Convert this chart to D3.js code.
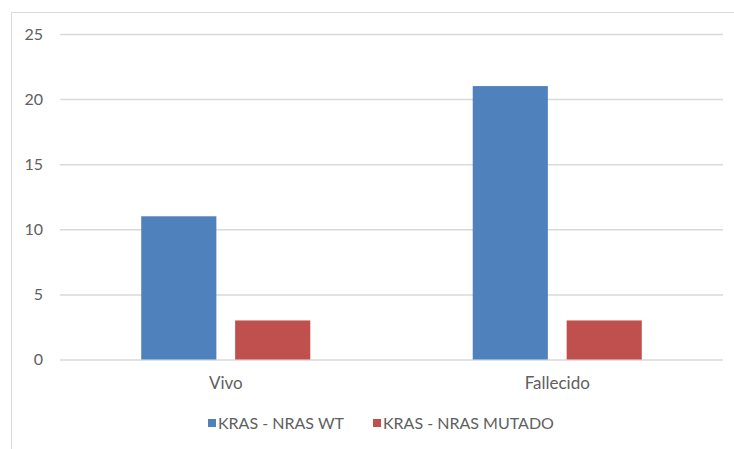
<!DOCTYPE html>
<html><head><meta charset="utf-8">
<script src="https://cdn.jsdelivr.net/npm/d3@7"></script>
<style>body{margin:0;background:#fff}svg{display:block}</style>
</head><body>
<script>
const categories = ["Vivo", "Fallecido"];
const seriesNames = ["KRAS - NRAS WT", "KRAS - NRAS MUTADO"];
const wtValues = [11, 21];
const mutValues = [3, 3];
const yTicks = [0, 5, 10, 15, 20, 25];
const colors = ["#4F81BD", "#C0504D"];

const W = 734, H = 449;
const svg = d3.select("body").append("svg").attr("width", W).attr("height", H);
const font = "Lato, 'Open Sans', sans-serif";
const textColor = "#606060";

// chart border (left + top visible)
svg.append("line").attr("x1", 11.5).attr("x2", 11.5).attr("y1", 12).attr("y2", H).attr("stroke", "#d9d9d9");
svg.append("line").attr("x1", 11).attr("x2", W).attr("y1", 12.5).attr("y2", 12.5).attr("stroke", "#d9d9d9");

const x0 = d3.scaleBand().domain(categories).range([60, 723]).paddingInner(0.49).paddingOuter(0.245);
const x1 = d3.scaleBand().domain(seriesNames).range([0, x0.bandwidth()]).paddingInner(0.2);
const y = d3.scaleLinear().domain([0, 25]).range([359.5, 34]);

const yAxis = d3.axisLeft(y).tickValues(yTicks).tickSize(-(723 - 60)).tickPadding(17);
const gy = svg.append("g").attr("transform", "translate(60,0)").call(yAxis);
gy.select(".domain").remove();
gy.selectAll(".tick line").attr("stroke", "#d9d9d9").attr("stroke-width", 1.5);
gy.selectAll(".tick text").attr("fill", textColor).style("font-family", font).style("font-size", "16px");

const data = categories.map((c, i) => ({cat: c, vals: [wtValues[i], mutValues[i]]}));
const groups = svg.append("g").selectAll("g").data(data).join("g")
  .attr("transform", d => `translate(${x0(d.cat)},0)`);
groups.selectAll("rect").data(d => d.vals.map((v, j) => ({name: seriesNames[j], v, j})))
  .join("rect")
  .attr("x", d => x1(d.name))
  .attr("width", x1.bandwidth())
  .attr("y", d => y(d.v))
  .attr("height", d => y(0) - y(d.v))
  .attr("fill", d => colors[d.j]);

const xAxis = d3.axisBottom(x0).tickSize(0).tickPadding(17);
const gx = svg.append("g").attr("transform", "translate(0,359.5)").call(xAxis);
gx.select(".domain").remove();
gx.selectAll(".tick text").attr("fill", textColor).style("font-family", font).style("font-size", "17px");

// legend
const legendX = [208, 373];
const lg = svg.append("g").selectAll("g").data(seriesNames).join("g")
  .attr("transform", (d, i) => `translate(${legendX[i]},423)`);
lg.append("rect").attr("x", 0).attr("y", -4).attr("width", 8).attr("height", 8).attr("fill", (d, i) => colors[i]);
lg.append("text").attr("x", 10).attr("y", 0).attr("dy", "0.35em").text(d => d)
  .attr("fill", textColor).style("font-family", font).style("font-size", "16px");
</script>
</body></html>
